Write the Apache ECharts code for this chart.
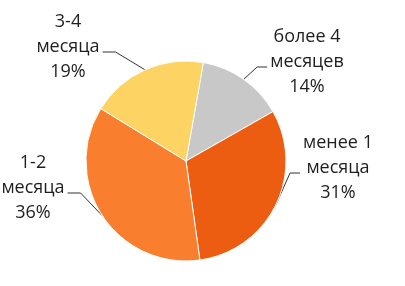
<!DOCTYPE html>
<html>
<head>
<meta charset="utf-8">
<script src="https://cdn.jsdelivr.net/npm/echarts@6/dist/echarts.min.js"></script>
<style>
html,body{margin:0;padding:0;background:#fff;}
#chart{width:405px;height:286px;}
</style>
</head>
<body>
<div id="chart"></div>
<script>
// Data
const categories = ['более 4\nмесяцев', 'менее 1\nмесяца', '1-2\nмесяца', '3-4\nмесяца'];
const values = [14, 31, 36, 19];
const colors = ['#C8C8C8', '#EC5D11', '#F97F2E', '#FDD463'];

// Label centers (middle line) per slice
const labelCenters = [[307, 62], [338, 168], [33, 188], [68, 47]];

const chart = echarts.init(document.getElementById('chart'), null, {renderer: 'canvas'});

const pieCenter = [186, 161];

chart.setOption({
  animation: false,
  backgroundColor: '#ffffff',
  series: [{
    type: 'pie',
    center: pieCenter,
    radius: 100,
    startAngle: 80,
    clockwise: true,
    avoidLabelOverlap: false,
    data: categories.map((c, i) => ({
      name: c,
      value: values[i],
      itemStyle: {color: colors[i]}
    })),
    itemStyle: {borderColor: '#ffffff', borderWidth: 1},
    label: {
      show: true,
      position: 'outside',
      formatter: p => p.name + '\n' + Math.round(p.percent) + '%',
      fontFamily: '"Open Sans", "Noto Sans", sans-serif',
      fontSize: 18,
      lineHeight: 25,
      color: '#1e1e1e',
      align: 'center'
    },
    labelLine: {
      show: true,
      length: 10,
      length2: 10,
      smooth: false,
      lineStyle: {color: '#333333', width: 1}
    },
    labelLayout: function (params) {
      const i = params.dataIndex;
      const pos = labelCenters[i];
      const w = params.labelRect.width;
      const arc = params.labelLinePoints ? params.labelLinePoints[0] : pos;
      const isLeft = pos[0] < pieCenter[0];
      const sy = pos[1] + 5;
      let inner, outer;
      if (isLeft) {
        inner = [pos[0] + w / 2 + 3, sy];
        outer = [inner[0] + 13, sy];
      } else {
        inner = [pos[0] - w / 2 - 3, sy];
        outer = [inner[0] - 10, sy];
      }
      return {
        x: pos[0],
        y: pos[1],
        align: 'center',
        verticalAlign: 'middle',
        labelLinePoints: [[arc[0], arc[1]], outer, inner]
      };
    },
    emphasis: {disabled: true}
  }]
});
</script>
</body>
</html>
